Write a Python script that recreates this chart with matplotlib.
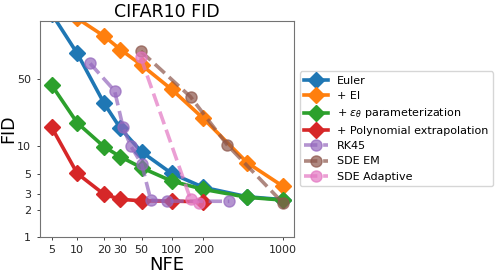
import matplotlib
matplotlib.use("Agg")
import numpy as np
import matplotlib.pyplot as plt
from matplotlib.ticker import FixedLocator, FixedFormatter, NullLocator

# ---- data ----
euler_nfe = [5, 10, 20, 30, 50, 100, 200, 500, 1000]
euler_fid = [215, 88.7, 28.0, 15.4, 8.7, 5.1, 3.6, 2.83, 2.63]

ei_nfe = [10, 20, 30, 50, 100, 200, 500, 1000]
ei_fid = [194, 131, 97, 68, 38.8, 19.6, 6.65, 3.71]

eps_nfe = [5, 10, 20, 30, 50, 100, 200, 500, 1000]
eps_fid = [42.9, 17.6, 9.87, 7.72, 5.88, 4.21, 3.42, 2.79, 2.60]

poly_nfe = [5, 10, 20, 30, 50, 100, 200]
poly_fid = [15.8, 5.1, 3.01, 2.65, 2.55, 2.53, 2.49]

rk45_nfe = [14, 26, 32, 38.5, 50, 62, 89, 346]
rk45_fid = [70.7, 37.6, 15.8, 10.1, 6.44, 2.60, 2.53, 2.52]

sdeem_nfe = [49, 152, 332, 1000]
sdeem_fid = [93.4, 32.6, 10.3, 2.43]

sdead_nfe = [49, 152, 182]
sdead_fid = [81.0, 2.65, 2.39]

xticks = [5, 10, 20, 30, 50, 100, 200, 1000]
yticks = [1, 2, 3, 5, 10, 50]

PX, PY = 0.07, 0.035


def fwd(p):
    return lambda v: np.power(np.clip(v, 1e-9, None), p)


def inv(p):
    return lambda v: np.power(np.clip(v, 1e-9, None), 1.0 / p)


fig = plt.figure(figsize=(5.0, 2.74), dpi=100)
ax = fig.add_axes([0.079, 0.136, 0.509, 0.788])

lw = 2.6
ms = 8
ax.plot(euler_nfe, euler_fid, color="C0", marker="D", lw=lw, ms=ms, label="Euler")
ax.plot(ei_nfe, ei_fid, color="C1", marker="D", lw=lw, ms=ms, label="+ EI")
ax.plot(eps_nfe, eps_fid, color="C2", marker="D", lw=lw, ms=ms,
        label=r"+ $\epsilon_\theta$ parameterization")
ax.plot(poly_nfe, poly_fid, color="C3", marker="D", lw=lw, ms=ms,
        label="+ Polynomial extrapolation")
ax.plot(rk45_nfe, rk45_fid, color="C4", marker="o", ls="--", lw=lw, ms=ms,
        alpha=0.7, label="RK45")
ax.plot(sdeem_nfe, sdeem_fid, color="C5", marker="o", ls="--", lw=lw, ms=ms,
        alpha=0.7, label="SDE EM")
ax.plot(sdead_nfe, sdead_fid, color="C6", marker="o", ls="--", lw=lw, ms=ms,
        alpha=0.7, label="SDE Adaptive")

ax.set_xscale("function", functions=(fwd(PX), inv(PX)))
ax.set_yscale("function", functions=(fwd(PY), inv(PY)))
ax.set_xlim(3.55, 1240)
ax.set_ylim(1, 184)
ax.xaxis.set_major_locator(FixedLocator(xticks))
ax.xaxis.set_major_formatter(FixedFormatter([str(t) for t in xticks]))
ax.xaxis.set_minor_locator(NullLocator())
ax.yaxis.set_major_locator(FixedLocator(yticks))
ax.yaxis.set_major_formatter(FixedFormatter([str(t) for t in yticks]))
ax.yaxis.set_minor_locator(NullLocator())
ax.tick_params(labelsize=8, length=2.5, width=0.6, colors="0.15")
for s in ax.spines.values():
    s.set_color("0.45")
    s.set_linewidth(0.8)

ax.set_title("CIFAR10 FID", fontsize=12.5, pad=3)
ax.set_xlabel("NFE", fontsize=13, labelpad=1)
ax.set_ylabel("FID", fontsize=12.5, labelpad=0)

ax.legend(loc="center left", bbox_to_anchor=(1.0, 0.5), fontsize=8.0,
          handlelength=2.2, labelspacing=0.48)

fig.savefig("out.png", dpi=100)
